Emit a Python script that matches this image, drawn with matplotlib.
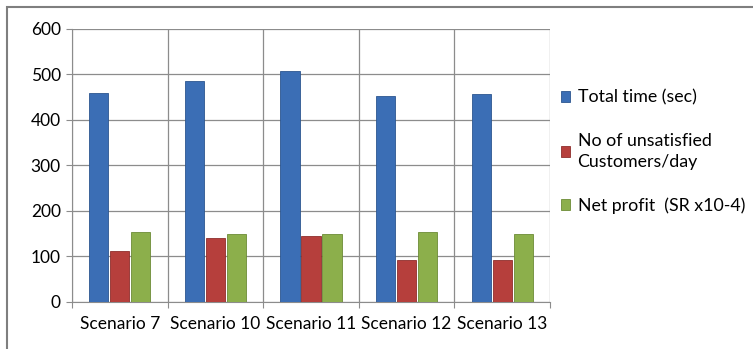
import numpy as np
import matplotlib
matplotlib.use('Agg')
import matplotlib.pyplot as plt
from matplotlib.patches import Rectangle

plt.rcParams['font.family'] = ['Lato', 'DejaVu Sans']

scenarios = ['Scenario 7', 'Scenario 10', 'Scenario 11', 'Scenario 12', 'Scenario 13']
total_time = [459, 484, 508, 452, 457]
unsatisfied = [112, 140, 145, 92, 92]
net_profit = [153, 150, 150, 153, 150]

labels = ['Total time (sec)', 'No of unsatisfied\nCustomers/day', 'Net profit  (SR x10-4)']
colors = ['#3B6EB5', '#B63F3C', '#8CAF4B']
edges = ['#2C5690', '#8E2E2C', '#6C8B36']

fig = plt.figure(figsize=(7.53, 3.49), dpi=100)
ax = fig.add_axes([0.0956, 0.1347, 0.6348, 0.7833])

x = np.arange(len(scenarios))
w = 0.2
gap = 0.02
series = [total_time, unsatisfied, net_profit]
handles = []
for i, vals in enumerate(series):
    b = ax.bar(x + (i - 1) * (w + gap), vals, width=w, color=colors[i],
               edgecolor=edges[i], linewidth=0.6, zorder=3, label=labels[i])
    handles.append(b)

ax.set_ylim(0, 600)
ax.set_xlim(-0.5, len(scenarios) - 0.5)
ax.set_yticks(range(0, 601, 100))
ax.yaxis.grid(True, color='#8C8C8C', linewidth=0.9)

# category boundaries as vertical gridlines / ticks
ax.set_xticks(np.arange(-0.5, len(scenarios)), minor=False)
ax.set_xticklabels([])
ax.set_xticks(x, minor=True)
ax.set_xticklabels(scenarios, minor=True)
ax.xaxis.grid(True, which='major', color='#8C8C8C', linewidth=0.9)
ax.tick_params(axis='x', which='minor', length=0, pad=10, labelsize=12.5)
ax.tick_params(axis='x', which='major', length=4, color='#8C8C8C', direction='out')
ax.tick_params(axis='y', length=4, color='#8C8C8C', labelsize=12.5, pad=4)

for s in ['top', 'right']:
    ax.spines[s].set_visible(False)
ax.spines['left'].set_color('#8C8C8C')
ax.spines['bottom'].set_color('#8C8C8C')

leg = ax.legend(handles=handles, loc='center left', bbox_to_anchor=(1.0, 0.55),
                frameon=False, fontsize=12.8, labelspacing=1.55, handlelength=0.55,
                handleheight=0.55, handletextpad=0.4, borderaxespad=0.2)
for t in leg.get_texts():
    t.set_linespacing(1.35)

fig.patches.append(Rectangle((7 / 753, -0.05), 1.0, 1 - 7 / 349 + 0.05,
                             transform=fig.transFigure, fill=False,
                             edgecolor='#7F7F7F', linewidth=1.5))

fig.savefig('out.png', dpi=100)
